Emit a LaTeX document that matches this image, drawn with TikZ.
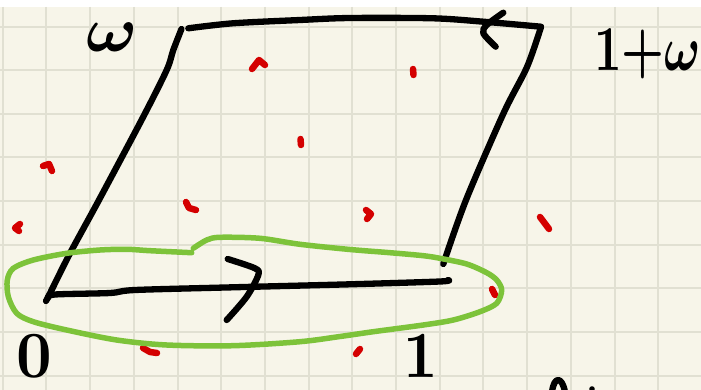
\documentclass[tikz,border=0pt]{standalone}
\usepackage{graphicx}
\definecolor{paper}{RGB}{247,245,233}
\definecolor{gridc}{RGB}{225,224,210}
\definecolor{inkred}{RGB}{212,0,0}
\definecolor{inkgreen}{RGB}{125,195,58}
\tikzset{
  ink/.style={line width=6.3pt, line cap=round, line join=round, black},
  redink/.style={line width=6.5pt, line cap=round, line join=round, inkred},
  greenink/.style={line width=5.5pt, line cap=round, line join=round, inkgreen},
  gridline/.style={line width=2pt, gridc},
  lbl/.style={inner sep=0pt, text=black, anchor=base}
}
\begin{document}
\begin{tikzpicture}[x=1pt,y=-1pt]
\useasboundingbox (0,0) rectangle (701,390);
\fill[white] (0,0) rectangle (701,390);
\fill[paper] (0,7) rectangle (701,390);
\foreach \i in {0,...,15} { \draw[gridline] ({2.7+43.7*\i},7) -- ({2.7+43.7*\i},390); }
\foreach \j in {0,...,8} { \draw[gridline] (0,{26.7+43.6*\j}) -- (701,{26.7+43.6*\j}); }

% red dots
\draw[redink] (252,69) -- (259,60) -- (265,65);
\draw[redink] (300.5,139) -- (301,145);
\draw[redink] (413,69) -- (413.5,75);
\draw[redink] (43,166) -- (49,164) -- (52,171);
\draw[redink] (20,224) -- (15,228) -- (19,231);
\draw[redink] (186,202) -- (189,208) -- (196,210);
\draw[redink] (143,348) -- (150,352) -- (157,353);
\draw[redink] (366,210) -- (371,214) -- (367,219);
\draw[redink] (540,217) -- (549,229);
\draw[redink] (492,289) -- (495,295);
\draw[redink] (356,354) -- (360,349);

% parallelogram
\draw[ink] plot[smooth] coordinates {(181.5,29) (173.3,50) (166.7,70) (143.3,116.7) (99,200) (70,253.3) (50,293.3) (46,301)};
\draw[ink] plot[smooth] coordinates {(188.3,28.3) (233,23.3) (300,20) (350,18) (433,18.3) (483.3,21.7) (541,26.7)};
\draw[ink] plot[smooth] coordinates {(541,27) (527,67) (503.5,113.3) (466,200) (443.3,264)};
\draw[ink] plot[smooth] coordinates {(48,298) (55,294.5) (110,293) (135,290) (233,287.3) (350,284.3) (440,281.5) (448,280)};
% arrow marks
\draw[ink] plot[smooth] coordinates {(503.3,12.7) (486.7,25) (483.3,33.3) (495.7,46.7)};
\draw[ink] plot[smooth] coordinates {(227.7,259) (255,268.3) (258.3,275) (246.7,296.7) (226.7,320)};

% green loop
\draw[greenink] plot[smooth] coordinates {(191.7,252.7) (150,250.7) (126.7,249.3) (100,250) (66.7,253.3) (33.3,260) (13.3,268.3) (7.3,280) (8.3,296.7) (16.7,313.3) (33.3,321.7) (66.7,330) (116.7,340) (166.7,345) (233.3,345.7) (300,341.7) (340,336.5) (373.3,331.7) (423.3,325) (453.3,320) (480,311.7) (496.7,303.3) (501.7,290) (496.7,280) (486.7,272.7) (466.7,264) (440,258.3) (423.3,255.7) (390,252.7) (350,249.5) (300,244.3) (260,238.3) (220,237.3) (206.7,240) (193.3,248.3)};

% labels
\node[lbl] (w) at (112,52) {\scalebox{6.8}[6.4]{\boldmath$\omega$}};
\node[lbl, anchor=base west] (onew) at (594,71) {\scalebox{4.8}[6.4]{\boldmath$1{+}\omega$}};
\node[lbl] (zero) at (34,377) {\scalebox{6.2}[6.6]{\bfseries 0}};
\node[lbl] (one) at (421,377) {\scalebox{6}[6.6]{\bfseries 1}};

% partial glyph at bottom edge
\draw[ink] (552,392) .. controls (554,376) and (562,376) .. (565,392);
\fill[black] (592,389) circle (2.8);
\end{tikzpicture}
\end{document}
